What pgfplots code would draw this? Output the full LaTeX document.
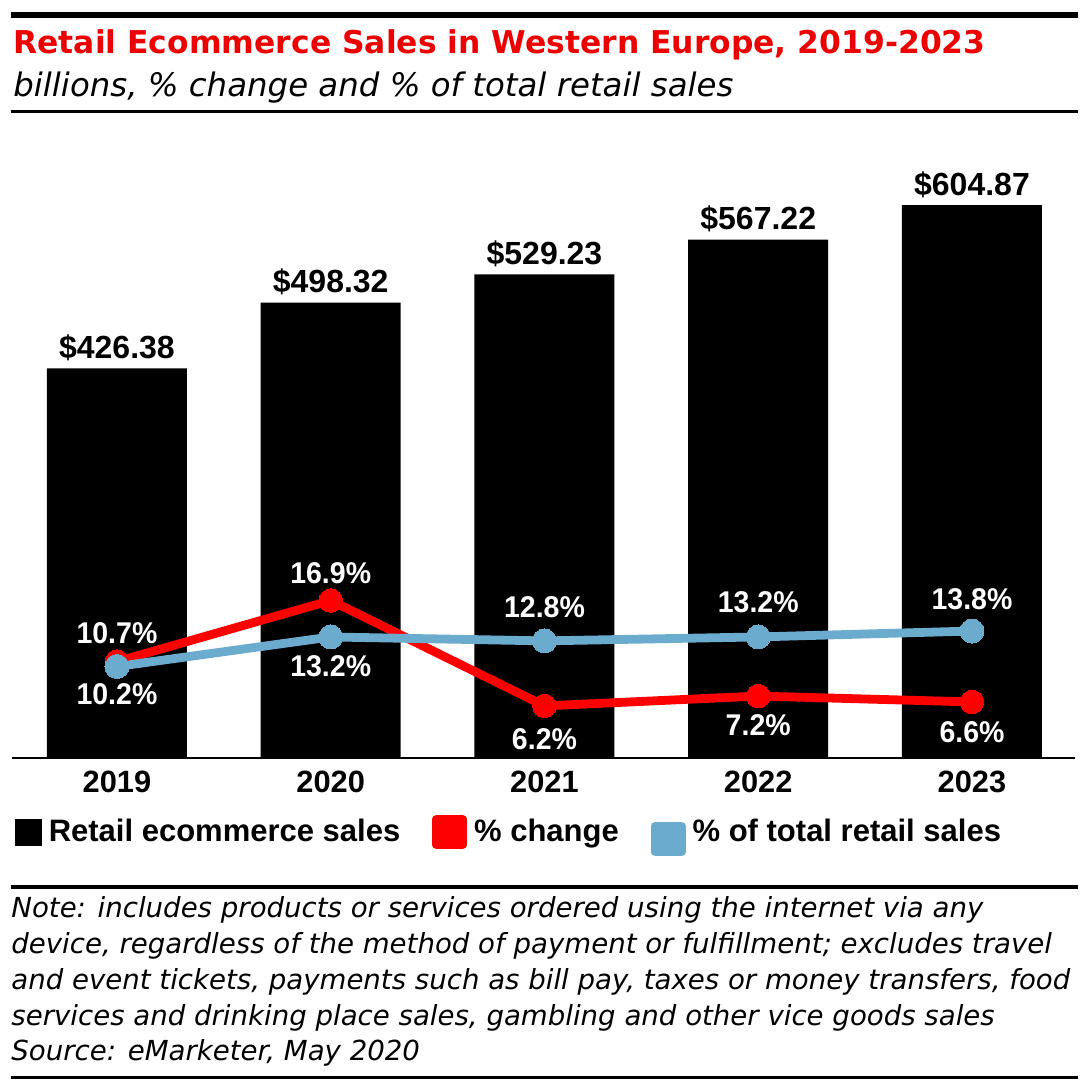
\documentclass[border=0pt]{standalone}
\usepackage{pgfplots}
\pgfplotsset{compat=1.18}
\usepackage{pgfplotstable}
\usepackage{fontspec}
\setmainfont{Liberation Sans}
\newfontfamily\dv{DejaVu Sans}
\newfontfamily\pctfont{Liberation Sans}[FakeStretch=0.95]

\definecolor{ered}{RGB}{255,0,0}
\definecolor{etitle}{RGB}{237,0,0}
\definecolor{eblue}{RGB}{107,172,206}

% sales, billions
\pgfplotstableread{
x y
0 426.38
1 498.32
2 529.23
3 567.22
4 604.87
}\salestab

% % change (dy = label offset in pt)
\pgfplotstableread{
x y dy
0 10.7 14
1 16.9 13.5
2 6.2 -16.5
3 7.2 -14.5
4 6.6 -15
}\changetab

% % of total retail sales
\pgfplotstableread{
x y dy
0 10.2 -14
1 13.2 -14.5
2 12.8 17
3 13.2 17.5
4 13.8 16
}\sharetab

\begin{document}
\begin{tikzpicture}
\path[use as bounding box] (0pt,0pt) rectangle (542.5pt,-540pt);

% bars
\begin{axis}[
  at={(6pt,-379pt)}, anchor=south west,
  scale only axis, width=531.5pt, height=309pt,
  xmin=-0.491, xmax=4.482, ymin=0, ymax=676.1,
  clip=false,
  axis x line*=bottom, axis y line=none,
  x axis line style={line width=1.3pt},
  xtick={0,1,2,3,4},
  xticklabels={2019,2020,2021,2022,2023},
  major tick length=0pt, ytick=\empty,
  xticklabel style={font=\fontsize{15.4}{16}\selectfont\bfseries, inner sep=0pt, anchor=north, yshift=-6.5pt},
  /pgf/number format/.cd, fixed, fixed zerofill, precision=2, assume math mode=true, /pgfplots/.cd,
]
\addplot[ybar, bar width=0.655, fill=black, draw=none,
  nodes near coords={\$\pgfmathprintnumber{\pgfplotspointmeta}},
  point meta=y,
  every node near coord/.append style={font=\fontsize{16}{16}\selectfont\bfseries, text=black, anchor=base, yshift=5pt, inner sep=0pt}]
  table[x=x, y=y] {\salestab};
\end{axis}

% lines
\begin{axis}[
  at={(6pt,-379pt)}, anchor=south west,
  scale only axis, width=531.5pt, height=309pt,
  xmin=-0.491, xmax=4.482, ymin=0.91, ymax=63.65,
  clip=false, axis lines=none,
  /pgf/number format/.cd, fixed, fixed zerofill, precision=1, assume math mode=true, /pgfplots/.cd,
  legend columns=3,
  legend style={at={(rel axis cs:0.0028,-0.1254)}, anchor=west, draw=none, fill=none,
    inner sep=0pt, outer sep=0pt,
    font=\fontsize{15.5}{16}\selectfont\bfseries,
    nodes={inner sep=0pt},
    /tikz/every odd column/.append style={column sep=3.5pt},
    /tikz/every even column/.append style={column sep=16pt}},
]
\addlegendimage{legend image code/.code={\fill[black] (0pt,-6.5pt) rectangle (13pt,6.5pt);}}
\addlegendentry{Retail ecommerce sales}
\addplot[ered, line width=4.4pt, line join=round,
  mark=*, mark size=5.9pt, mark options={line width=0pt, fill=ered},
  point meta=y,
  visualization depends on={\thisrow{dy}\as\dy},
  nodes near coords={\pgfmathprintnumber{\pgfplotspointmeta}\%},
  every node near coord/.append style={font=\pctfont\fontsize{15}{15}\selectfont\bfseries, text=white, anchor=center, yshift=\dy pt, inner sep=0pt},
  legend image code/.code={\fill[ered] (0pt,-6.5pt) rectangle (13pt,6.5pt);}]
  table[x=x, y=y] {\changetab};
\addlegendentry{\% change}
\addplot[eblue, line width=4.4pt, line join=round,
  mark=*, mark size=6pt, mark options={line width=0pt, fill=eblue},
  point meta=y,
  visualization depends on={\thisrow{dy}\as\dy},
  nodes near coords={\pgfmathprintnumber{\pgfplotspointmeta}\%},
  every node near coord/.append style={font=\pctfont\fontsize{15}{15}\selectfont\bfseries, text=white, anchor=center, yshift=\dy pt, inner sep=0pt},
  legend image code/.code={\fill[eblue] (0pt,-10pt) rectangle (13pt,3pt);}]
  table[x=x, y=y] {\sharetab};
\addlegendentry{\% of total retail sales}
\end{axis}

% header
\fill[black] (5.5pt,-5.85pt) rectangle (539pt,-9.15pt);
\node[anchor=base west, inner sep=0pt, text=etitle, font=\dv\bfseries\fontsize{15.7}{18}\selectfont]
  at (6.5pt,-26.7pt) {Retail Ecommerce Sales in Western Europe, 2019-2023};
\node[anchor=base west, inner sep=0pt, font=\dv\itshape\fontsize{16.2}{18}\selectfont]
  at (6.5pt,-48.3pt) {billions, \% change and \% of total retail sales};
\draw[line width=1.5pt] (5.5pt,-55.75pt) -- (539pt,-55.75pt);

% notes
\draw[line width=2pt] (5.5pt,-443.5pt) -- (539pt,-443.5pt);
\begin{scope}[every node/.style={anchor=base west, inner sep=0pt, font=\dv\itshape\fontsize{13.8}{16}\selectfont}]
\node at (5.5pt,-458.5pt) {Note: includes products or services ordered using the internet via any};
\node at (5.5pt,-476.5pt) {device, regardless of the method of payment or fulfillment; excludes travel};
\node at (5.5pt,-494.5pt) {and event tickets, payments such as bill pay, taxes or money transfers, food};
\node at (5.5pt,-512.5pt) {services and drinking place sales, gambling and other vice goods sales};
\node at (5.5pt,-530pt) {Source: eMarketer, May 2020};
\end{scope}
\draw[line width=1.5pt] (5.5pt,-538.75pt) -- (539pt,-538.75pt);
\end{tikzpicture}
\end{document}
